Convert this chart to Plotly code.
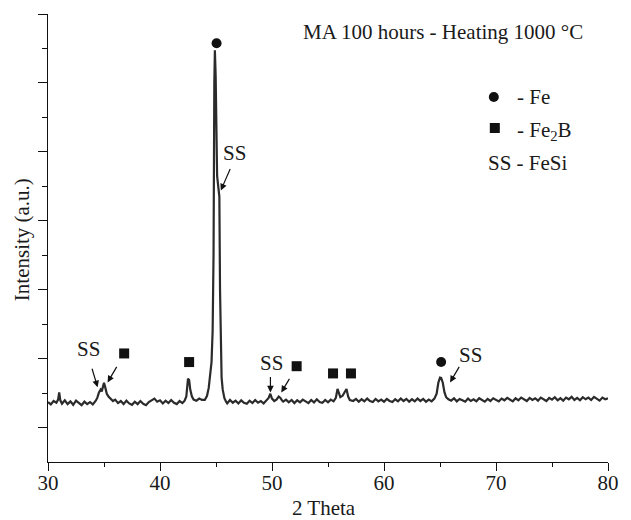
import plotly.graph_objects as go

# ---- data ----
two_theta = [30.0, 30.25, 30.5, 30.75, 30.9, 31.0, 31.1, 31.25, 31.5, 31.75, 32.0, 32.25, 32.5, 32.75,
             33.0, 33.25, 33.5, 33.75, 34.0, 34.25, 34.4, 34.55, 34.7, 34.8, 34.9, 35.0, 35.1, 35.25,
             35.4, 35.6, 35.8, 36.0, 36.25, 36.5, 36.75, 37.0, 37.25, 37.5, 37.75, 38.0, 38.25, 38.5,
             38.75, 39.0, 39.25, 39.5, 39.75, 40.0, 40.25, 40.5, 40.75, 41.0, 41.25, 41.5, 41.75, 42.0,
             42.2, 42.35, 42.5, 42.6, 42.7, 42.85, 43.0, 43.25, 43.5, 43.75, 44.0, 44.2, 44.35, 44.45,
             44.6, 44.7, 44.78, 44.85, 44.9, 44.97, 45.05, 45.1, 45.2, 45.3, 45.36, 45.42, 45.5, 45.6,
             45.75, 45.9, 46.0, 46.25,
             46.5, 46.75, 47.0, 47.25, 47.5, 47.75, 48.0, 48.25, 48.5, 48.75, 49.0, 49.25, 49.5, 49.7,
             49.85, 50.0, 50.2, 50.4, 50.6, 50.75, 50.9, 51.0, 51.25, 51.5, 51.75, 52.0, 52.25, 52.5,
             52.75, 53.0, 53.25, 53.5, 53.75, 54.0, 54.25, 54.5, 54.75, 55.0, 55.25, 55.5, 55.7, 55.85,
             56.0, 56.1, 56.3, 56.5, 56.65, 56.8, 56.95, 57.25, 57.5, 57.75, 58.0, 58.25, 58.5, 58.75,
             59.0, 59.25, 59.5, 59.75, 60.0, 60.25, 60.5, 60.75, 61.0, 61.25, 61.5, 61.75, 62.0, 62.25,
             62.5, 62.75, 63.0, 63.25, 63.5, 63.75, 64.0, 64.25, 64.5, 64.7, 64.85, 65.0, 65.1, 65.25,
             65.4, 65.55, 65.75, 66.0, 66.25, 66.5, 66.75, 67.0, 67.25, 67.5, 67.75, 68.0, 68.25, 68.5,
             68.75, 69.0, 69.25, 69.5, 69.75, 70.0, 70.25, 70.5, 70.75, 71.0, 71.25, 71.5, 71.75, 72.0,
             72.25, 72.5, 72.75, 73.0, 73.25, 73.5, 73.75, 74.0, 74.25, 74.5, 74.75, 75.0, 75.25, 75.5,
             75.75, 76.0, 76.25, 76.5, 76.75, 77.0, 77.25, 77.5, 77.75, 78.0, 78.25, 78.5, 78.75, 79.0,
             79.25, 79.5, 79.75, 80.0]
intensity = [1.74, 1.67, 1.77, 1.72, 1.81, 2.02, 1.79, 1.69, 1.79, 1.68, 1.76, 1.66, 1.78, 1.71,
             1.65, 1.75, 1.68, 1.74, 1.67, 1.77, 1.86, 2.02, 2.10, 2.05, 2.22, 2.30, 2.18, 1.98,
             1.90, 1.84, 1.77, 1.81, 1.71, 1.77, 1.68, 1.78, 1.70, 1.66, 1.75, 1.68, 1.77, 1.69,
             1.65, 1.74, 1.80, 1.84, 1.75, 1.79, 1.70, 1.78, 1.71, 1.80, 1.72, 1.68, 1.77, 1.71,
             1.78, 1.90, 2.42, 2.38, 2.10, 1.90, 1.81, 1.78, 1.84, 1.80, 1.80, 1.92, 2.15, 2.45,
             2.90, 3.80, 6.00, 11.00, 11.95, 11.20, 9.00, 8.30, 8.00, 7.70, 5.00, 3.60, 2.45, 2.10,
             1.85, 1.75, 1.70, 1.80,
             1.72, 1.78, 1.70, 1.79, 1.72, 1.69, 1.78, 1.71, 1.80, 1.72, 1.77, 1.70, 1.79, 1.86,
             1.98, 1.84, 1.77, 1.81, 1.90, 1.86, 1.78, 1.75, 1.81, 1.73, 1.80, 1.71, 1.79, 1.73,
             1.81, 1.75, 1.71, 1.80, 1.73, 1.82, 1.74, 1.72, 1.80, 1.73, 1.81, 1.76, 1.86, 2.12,
             2.00, 1.88, 1.92, 2.04, 2.12, 1.90, 1.80, 1.77, 1.83, 1.75, 1.82, 1.76, 1.84, 1.77,
             1.74, 1.83, 1.76, 1.81, 1.75, 1.83, 1.77, 1.74, 1.82, 1.76, 1.84, 1.77, 1.83, 1.75,
             1.82, 1.76, 1.84, 1.77, 1.83, 1.75, 1.81, 1.76, 1.84, 1.98, 2.30, 2.45, 2.44, 2.30,
             2.02, 1.88, 1.82, 1.78, 1.85, 1.76, 1.83, 1.79, 1.75, 1.84, 1.77, 1.82, 1.76, 1.85,
             1.79, 1.75, 1.83, 1.77, 1.85, 1.80, 1.76, 1.84, 1.79, 1.86, 1.80, 1.76, 1.85, 1.79,
             1.87, 1.81, 1.77, 1.86, 1.80, 1.85, 1.78, 1.87, 1.81, 1.77, 1.86, 1.81, 1.88, 1.79,
             1.85, 1.78, 1.87, 1.82, 1.89, 1.80, 1.86, 1.79, 1.88, 1.82, 1.87, 1.80, 1.89, 1.83,
             1.78, 1.87, 1.82, 1.85]

fe_x = [45.05, 65.1]
fe_y = [12.15, 2.9]
fe2b_x = [36.8, 42.6, 52.2, 55.45, 57.05]
fe2b_y = [3.15, 2.9, 2.78, 2.57, 2.57]

# FeSi (SS) arrows: head position (data) and tail offset (px)
ss_head_x = [34.43, 35.32, 45.43, 49.86, 50.83, 65.9]
ss_head_y = [2.17, 2.31, 7.88, 2.02, 2.02, 2.31]
ss_tail_dx = [-6, 10, 10, 0, 9, 10]
ss_tail_dy = [-20, -17, -23, -17, -15, -17]
ss_label_x = [33.63, 46.67, 49.95, 67.68]
ss_label_y = [3.27, 8.96, 2.87, 3.1]

x_ticks = [30, 40, 50, 60, 70, 80]
x_minor = [35, 45, 55, 65, 75]
y_ticks = [1, 3, 5, 7, 9, 11, 13]
y_minor = [2, 4, 6, 8, 10, 12]

FONT = "Liberation Serif, Times New Roman, serif"
TXT = "#1a1a1a"
FS = 21

fig = go.Figure()
fig.add_trace(go.Scatter(x=two_theta, y=intensity, mode="lines",
                         line=dict(color="#2b2b2b", width=2.2), showlegend=False, hoverinfo="skip"))
fig.add_trace(go.Scatter(x=fe_x, y=fe_y, mode="markers",
                         marker=dict(symbol="circle", size=10, color="#111"), showlegend=False))
fig.add_trace(go.Scatter(x=fe2b_x, y=fe2b_y, mode="markers",
                         marker=dict(symbol="square", size=10, color="#111"), showlegend=False))

for hx, hy, dx, dy in zip(ss_head_x, ss_head_y, ss_tail_dx, ss_tail_dy):
    fig.add_annotation(x=hx, y=hy, ax=dx, ay=dy, text="", showarrow=True,
                       arrowhead=2, arrowsize=1.1, arrowwidth=1.2, arrowcolor="#111")
for lx, ly in zip(ss_label_x, ss_label_y):
    fig.add_annotation(x=lx, y=ly, text="SS", showarrow=False, xanchor="center", yanchor="middle",
                       font=dict(family=FONT, size=FS, color=TXT))

L, T, W, H = 48, 14, 564, 448
def px(x):
    return (x - L) / W
def py(y):
    return (T + H - y) / H

fig.add_annotation(x=px(303), y=py(32), xref="paper", yref="paper", xanchor="left", yanchor="middle",
                   text="MA 100 hours - Heating 1000 °C", showarrow=False,
                   font=dict(family=FONT, size=FS, color=TXT))
fig.add_annotation(x=px(518), y=py(97), xref="paper", yref="paper", xanchor="left", yanchor="middle",
                   text="- Fe", showarrow=False, font=dict(family=FONT, size=FS, color=TXT))
fig.add_annotation(x=px(518), y=py(131), xref="paper", yref="paper", xanchor="left", yanchor="middle",
                   text="- Fe<sub>2</sub>B", showarrow=False, font=dict(family=FONT, size=FS, color=TXT))
fig.add_annotation(x=px(489), y=py(163), xref="paper", yref="paper", xanchor="left", yanchor="middle",
                   text="SS - FeSi", showarrow=False, font=dict(family=FONT, size=FS, color=TXT))
fig.add_shape(type="circle", xref="paper", yref="paper", xsizemode="pixel", ysizemode="pixel",
              xanchor=px(497), yanchor=py(97), x0=-5, x1=5, y0=-5, y1=5,
              fillcolor="#111", line=dict(width=0))
fig.add_shape(type="rect", xref="paper", yref="paper", xsizemode="pixel", ysizemode="pixel",
              xanchor=px(498), yanchor=py(128), x0=-5, x1=5, y0=-5, y1=5,
              fillcolor="#111", line=dict(width=0))

fig.add_annotation(x=px(326), y=py(508), xref="paper", yref="paper", text="2 Theta", showarrow=False,
                   xanchor="center", yanchor="middle", font=dict(family=FONT, size=FS, color=TXT))
fig.add_annotation(x=px(22), y=py(240), xref="paper", yref="paper", text="Intensity (a.u.)",
                   xanchor="center", yanchor="middle",
                   textangle=-90, showarrow=False, font=dict(family=FONT, size=FS, color=TXT))

fig.update_xaxes(range=[30, 80], tickmode="array", tickvals=x_ticks, ticks="outside", ticklen=8,
                 tickwidth=1.2, tickcolor="#111", showline=True, linecolor="#111", linewidth=1.2,
                 showgrid=False, zeroline=False, ticklabelstandoff=-6,
                 tickfont=dict(family=FONT, size=FS, color=TXT),
                 minor=dict(tickmode="array", tickvals=x_minor, ticks="outside", ticklen=4,
                            tickwidth=1.2, tickcolor="#111", showgrid=False))
fig.update_yaxes(range=[0, 13], tickmode="array", tickvals=y_ticks, ticks="outside", ticklen=9,
                 tickwidth=1.2, tickcolor="#111", showline=True, linecolor="#111", linewidth=1.2,
                 showgrid=False, zeroline=False, showticklabels=False,
                 minor=dict(tickmode="array", tickvals=y_minor, ticks="outside", ticklen=5,
                            tickwidth=1.2, tickcolor="#111", showgrid=False))

fig.update_layout(width=631, height=520, margin=dict(l=L, r=631 - L - W, t=T, b=520 - T - H),
                  plot_bgcolor="white", paper_bgcolor="white", showlegend=False)

fig.write_html("out.html", config={"displayModeBar": False},
               post_script="document.body.style.margin='0';")
